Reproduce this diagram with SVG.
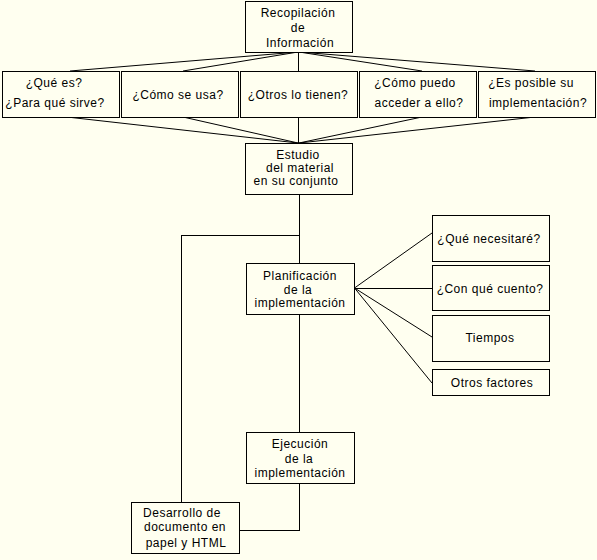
<svg xmlns="http://www.w3.org/2000/svg" width="597" height="560" viewBox="0 0 597 560">
<style>
.bg{fill:#FFFFF0}
.box{fill:#FFFFF0;stroke:#000;stroke-width:1;shape-rendering:crispEdges}
.ln{stroke:#000;stroke-width:1;fill:none}
.lc{stroke:#000;stroke-width:1;fill:none;shape-rendering:crispEdges}
text{font-family:"Liberation Sans",Arial,sans-serif;font-size:12px;letter-spacing:0.5px;fill:#000;text-anchor:middle}
</style>
<rect class="bg" x="0" y="0" width="597" height="560"/>
<g id="connectors">
<line class="ln" x1="298" y1="52" x2="70" y2="71"/>
<line class="ln" x1="298" y1="52" x2="183" y2="71"/>
<line class="ln" x1="299" y1="52" x2="422" y2="71"/>
<line class="ln" x1="299" y1="52" x2="535" y2="71"/>
<line class="lc" x1="298.5" y1="52" x2="298.5" y2="71"/>
<line class="ln" x1="67" y1="117" x2="298" y2="143"/>
<line class="ln" x1="183" y1="117" x2="298" y2="143"/>
<line class="ln" x1="422" y1="117" x2="299" y2="143"/>
<line class="ln" x1="535" y1="117" x2="299" y2="143"/>
<line class="lc" x1="298.5" y1="117" x2="298.5" y2="143"/>
<line class="lc" x1="299.5" y1="194" x2="299.5" y2="263"/>
<polyline class="lc" points="299.5,235.5 181.5,235.5 181.5,502"/>
<line class="lc" x1="299.5" y1="314" x2="299.5" y2="432"/>
<polyline class="lc" points="299.5,483 299.5,530.5 239,530.5"/>
<line class="ln" x1="354.5" y1="288" x2="432" y2="233"/>
<line class="lc" x1="354.5" y1="288.5" x2="432" y2="288.5"/>
<line class="ln" x1="354.5" y1="288" x2="432" y2="337"/>
<line class="ln" x1="354.5" y1="288" x2="432" y2="383"/>
</g>
<g id="recopilacion"><rect class="box" x="245.5" y="1.5" width="107" height="51"/>
<text x="298" y="17">Recopilación</text><text x="298" y="32">de</text><text x="300" y="47">Información</text></g>
<g id="que-es"><rect class="box" x="2.5" y="71.5" width="117" height="46"/>
<text x="54" y="87">¿Qué es?</text><text x="55" y="107">¿Para qué sirve?</text></g>
<g id="como-se-usa"><rect class="box" x="121.5" y="71.5" width="117" height="46"/>
<text x="178" y="99">¿Cómo se usa?</text></g>
<g id="otros-lo-tienen"><rect class="box" x="240.5" y="71.5" width="117" height="46"/>
<text x="298" y="99">¿Otros lo tienen?</text></g>
<g id="como-acceder"><rect class="box" x="359.5" y="71.5" width="117" height="46"/>
<text x="415" y="87">¿Cómo puedo</text><text x="419" y="107">acceder a ello?</text></g>
<g id="es-posible"><rect class="box" x="478.5" y="71.5" width="117" height="46"/>
<text x="531" y="87">¿Es posible su</text><text x="538" y="107">implementación?</text></g>
<g id="estudio"><rect class="box" x="245.5" y="143.5" width="107" height="51"/>
<text x="298" y="159">Estudio</text><text x="300" y="172">del material</text><text x="296" y="185">en su conjunto</text></g>
<g id="planificacion"><rect class="box" x="246.5" y="263.5" width="108" height="51"/>
<text x="300" y="280">Planificación</text><text x="298" y="294">de la</text><text x="300" y="307">implementación</text></g>
<g id="que-necesitare"><rect class="box" x="432.5" y="215.5" width="117" height="46"/>
<text x="489" y="243">¿Qué necesitaré?</text></g>
<g id="con-que-cuento"><rect class="box" x="432.5" y="265.5" width="117" height="45"/>
<text x="490" y="293">¿Con qué cuento?</text></g>
<g id="tiempos"><rect class="box" x="432.5" y="315.5" width="117" height="46"/>
<text x="490" y="342">Tiempos</text></g>
<g id="otros-factores"><rect class="box" x="432.5" y="369.5" width="117" height="26"/>
<text x="492" y="387">Otros factores</text></g>
<g id="ejecucion"><rect class="box" x="246.5" y="432.5" width="108" height="51"/>
<text x="300" y="448">Ejecución</text><text x="299" y="463">de la</text><text x="300" y="477">implementación</text></g>
<g id="desarrollo"><rect class="box" x="131.5" y="502.5" width="108" height="51"/>
<text x="182" y="517">Desarrollo de</text><text x="185" y="531">documento en</text><text x="186" y="547">papel y HTML</text></g>
</svg>
